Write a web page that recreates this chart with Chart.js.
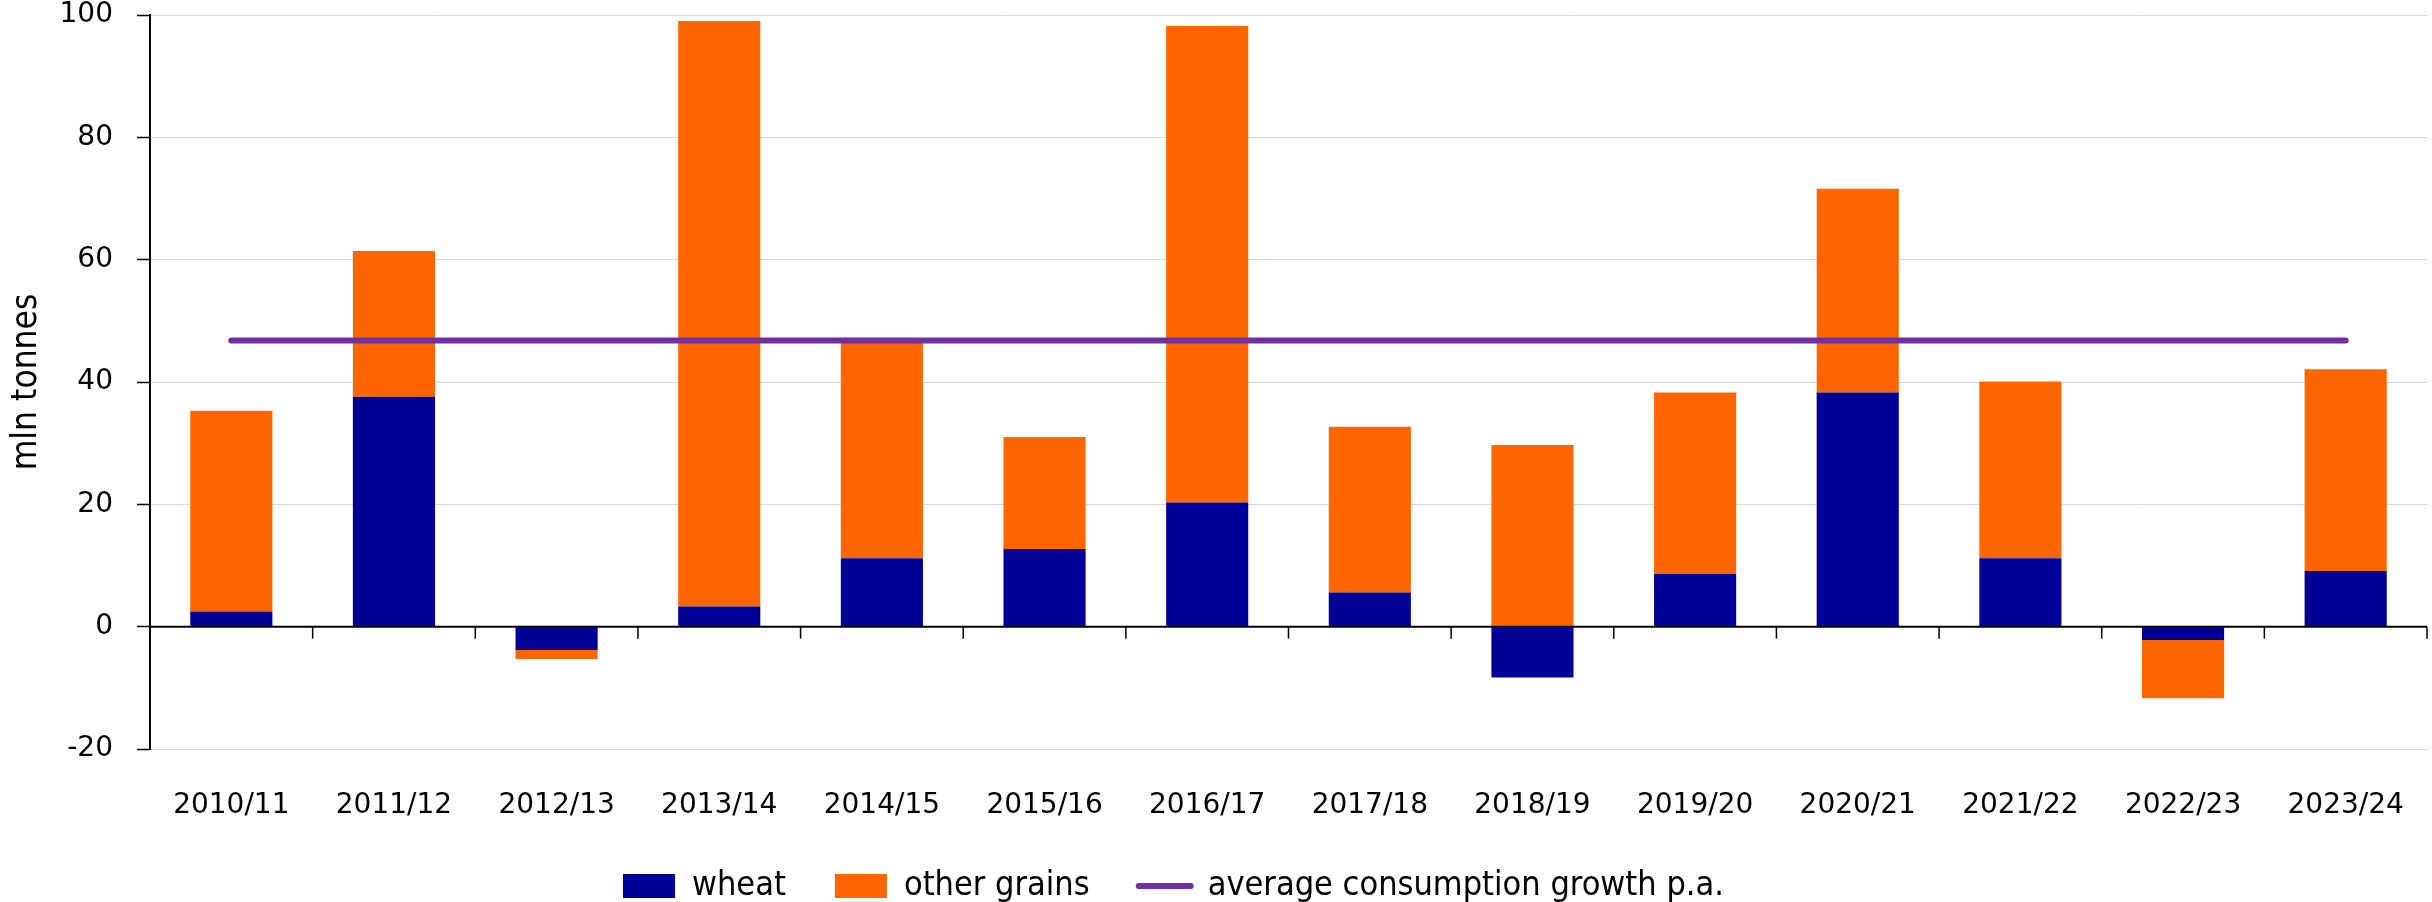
<!DOCTYPE html>
<html>
<head>
<meta charset="utf-8">
<script src="https://cdn.jsdelivr.net/npm/chart.js@4.4.1/dist/chart.umd.min.js"></script>
<style>
  html, body { margin: 0; padding: 0; background: #fff; }
  #wrap { width: 2432px; height: 902px; }
</style>
</head>
<body>
<div id="wrap"><canvas id="chart" width="2432" height="902"></canvas></div>
<script>
const seasons = ["2010/11", "2011/12", "2012/13", "2013/14", "2014/15", "2015/16", "2016/17",
                 "2017/18", "2018/19", "2019/20", "2020/21", "2021/22", "2022/23", "2023/24"]
const wheat = [2.5, 37.6, -3.8, 3.3, 11.2, 12.7, 20.3, 5.6, -8.3, 8.6, 38.3, 11.2, -2.2, 9.1]
const otherGrains = [32.8, 23.8, -1.5, 95.7, 36.0, 18.3, 77.9, 27.1, 29.7, 29.7, 33.3, 28.9, -9.5, 33.0]
const avgGrowth = [46.8, 46.8, 46.8, 46.8, 46.8, 46.8, 46.8, 46.8, 46.8, 46.8, 46.8, 46.8, 46.8, 46.8]
const yTicks = { min: -20, max: 100, step: 20 }

const tickFont = { family: "'DejaVu Sans', sans-serif", size: 28 }
const legendFont = { family: "'DejaVu Sans Condensed', 'DejaVu Sans', sans-serif", size: 34 }
const titleFont = { family: "'DejaVu Sans Condensed', 'DejaVu Sans', sans-serif", size: 35 }

// zero line with category tick marks hanging below it
const zeroAxis = {
    id: "zeroAxis",
    afterDatasetsDraw(chart) {
        const { ctx, chartArea, scales } = chart
        const x = scales.x, y = scales.y
        const y0 = y.getPixelForValue(0)
        const half = (x.getPixelForValue(1) - x.getPixelForValue(0)) / 2
        ctx.save()
        ctx.strokeStyle = "#000"
        ctx.lineWidth = 2
        ctx.beginPath()
        ctx.moveTo(chartArea.left, y0)
        ctx.lineTo(chartArea.right, y0)
        ctx.stroke()
        ctx.lineWidth = 1.5
        for (let i = 0; i < seasons.length; i++) {
            const px = x.getPixelForValue(i) + half
            ctx.beginPath()
            ctx.moveTo(px, y0)
            ctx.lineTo(px, y0 + 12)
            ctx.stroke()
        }
        ctx.restore()
    }
}

// nudge the legend row left to sit where the original has it
const legendShift = {
    id: "legendShift",
    afterLayout(chart) {
        if (chart.legend) {
            chart.legend.left -= 40
            chart.legend.right -= 40
        }
    }
}

const chart = new Chart(document.getElementById("chart"), {
    data: {
        labels: seasons,
        datasets: [
            {
                type: "bar",
                label: "wheat",
                data: wheat,
                backgroundColor: "#000099",
                stack: "grain",
                order: 2,
            },
            {
                type: "bar",
                label: "other grains",
                data: otherGrains,
                backgroundColor: "#FF6600",
                stack: "grain",
                order: 2,
            },
            {
                type: "line",
                label: "average consumption growth p.a.",
                data: avgGrowth,
                borderColor: "#7030A0",
                backgroundColor: "#7030A0",
                borderWidth: 6,
                borderCapStyle: "round",
                pointRadius: 0,
                order: 1,
            },
        ],
    },
    options: {
        responsive: false,
        animation: false,
        devicePixelRatio: 1,
        datasets: {
            bar: { barPercentage: 1, categoryPercentage: 0.505 },
        },
        layout: { padding: { top: 15, right: 5, left: 0, bottom: -11 } },
        scales: {
            x: {
                stacked: true,
                grid: { display: false, drawTicks: false },
                border: { display: false },
                ticks: { color: "#000", font: tickFont, padding: 40, maxRotation: 0 },
                afterFit(scale) {
                    scale.height = 71
                    scale.paddingLeft = 0
                    scale.paddingRight = 0
                },
            },
            y: {
                stacked: true,
                min: yTicks.min,
                max: yTicks.max,
                ticks: { stepSize: yTicks.step, color: "#000", font: tickFont, padding: 24 },
                grid: { color: "#d9d9d9", lineWidth: 1, tickColor: "#000", tickLength: 13, tickWidth: 1.5 },
                border: { display: true, color: "#000", width: 2 },
                title: { display: true, text: "mln tonnes", color: "#000", font: titleFont, padding: { top: 6, bottom: 0 } },
                afterFit(scale) {
                    scale.width = 150
                    scale.paddingTop = 0
                    scale.paddingBottom = 0
                },
            },
        },
        plugins: {
            tooltip: { enabled: false },
            legend: {
                position: "bottom",
                labels: {
                    color: "#000",
                    font: legendFont,
                    usePointStyle: true,
                    pointStyleWidth: 52,
                    boxHeight: 24,
                    padding: 49,
                    generateLabels(chart) {
                        return chart.data.datasets.map((ds, i) => ({
                            text: ds.label,
                            fillStyle: ds.type === "line" ? ds.borderColor : ds.backgroundColor,
                            strokeStyle: ds.type === "line" ? ds.borderColor : ds.backgroundColor,
                            lineWidth: ds.type === "line" ? 6 : 0,
                            lineCap: "round",
                            pointStyle: ds.type === "line" ? "line" : "rect",
                            fontColor: "#000",
                            hidden: false,
                            datasetIndex: i,
                        }))
                    },
                },
            },
        },
    },
    plugins: [zeroAxis, legendShift],
});
</script>
</body>
</html>
